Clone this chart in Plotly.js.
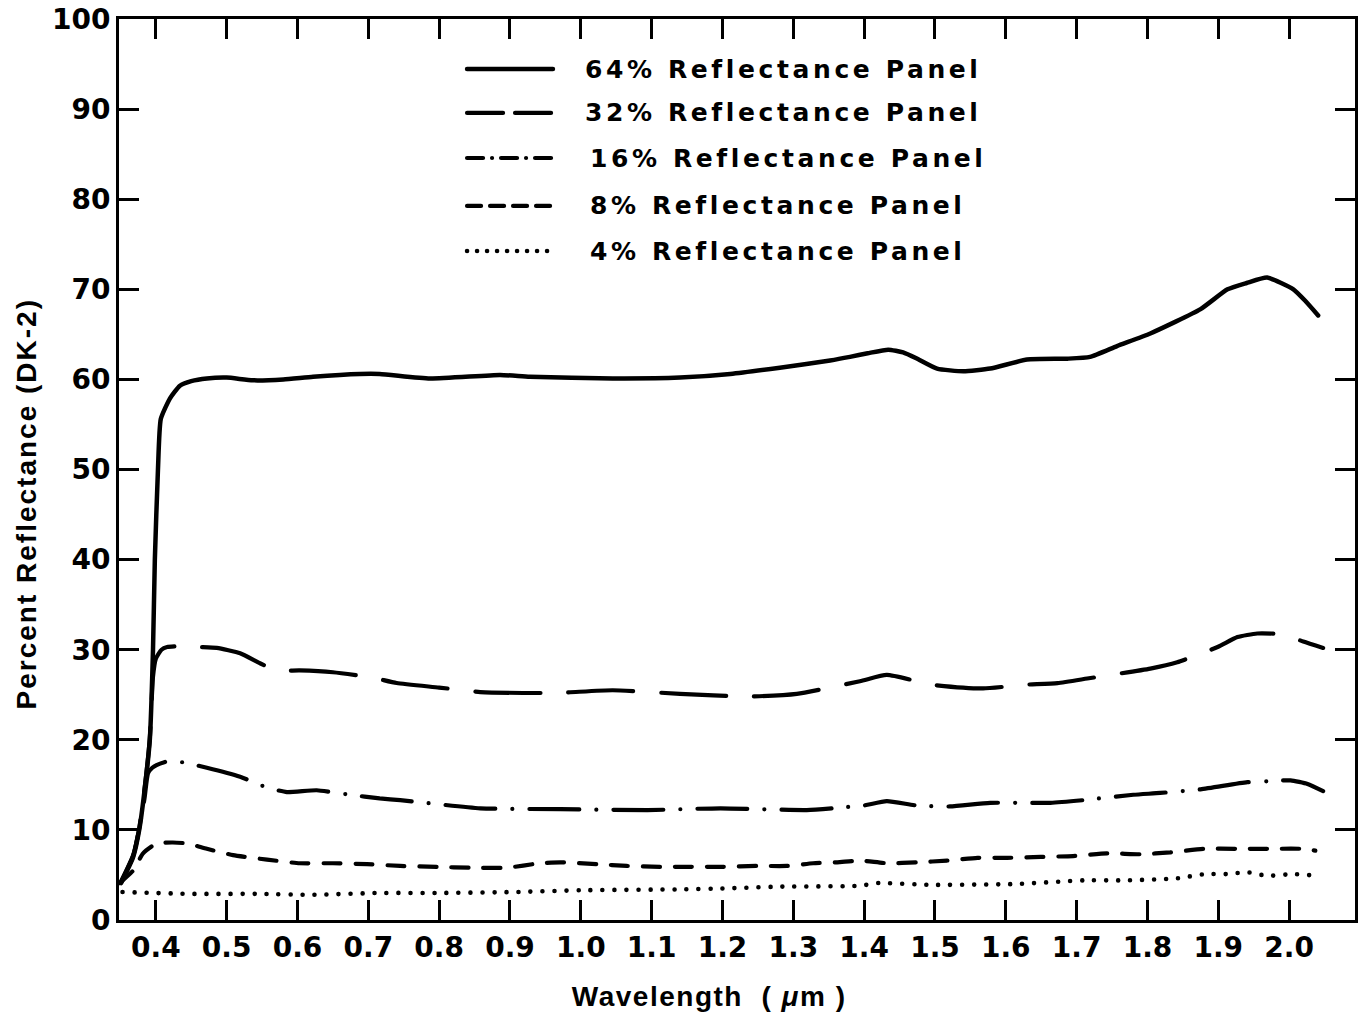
<!DOCTYPE html>
<html>
<head>
<meta charset="utf-8">
<script src="https://cdn.plot.ly/plotly-3.0.1.min.js"></script>
<style>
html,body{margin:0;padding:0;background:#fff;}
#chart{width:1364px;height:1017px;}
path.js-line{stroke-linecap:round;stroke-linejoin:round;}
.shapelayer path{stroke-linecap:round;}
text.annotation-text{letter-spacing:3.6px;}
text.xtitle{letter-spacing:1.5px;white-space:pre;}
text.ytitle{letter-spacing:2px;white-space:pre;}
</style>
</head>
<body>
<div id="chart"></div>
<script>
// ---- data ----
const seriesNames = ["64% Reflectance Panel", "32% Reflectance Panel", "16% Reflectance Panel", "8% Reflectance Panel", "4% Reflectance Panel"];

const wl64 = [0.351, 0.368, 0.377, 0.385, 0.3915, 0.396, 0.3986, 0.403, 0.407, 0.420, 0.434, 0.45, 0.472, 0.50, 0.537, 0.58, 0.622, 0.688, 0.716, 0.787, 0.886, 0.928, 1.045, 1.14, 1.211, 1.281, 1.352, 1.38, 1.405, 1.434, 1.455, 1.475, 1.503, 1.54, 1.578, 1.63, 1.687, 1.719, 1.757, 1.804, 1.875, 1.913, 1.94, 1.969, 2.006, 2.023, 2.041];
const r64  = [4.1, 7.0, 10.2, 15.0, 20.0, 30.0, 40.0, 50.0, 55.6, 57.9, 59.3, 59.8, 60.1, 60.2, 59.9, 60.0, 60.3, 60.6, 60.6, 60.1, 60.5, 60.3, 60.1, 60.2, 60.6, 61.3, 62.1, 62.5, 62.9, 63.3, 63.0, 62.3, 61.2, 60.9, 61.2, 62.2, 62.3, 62.5, 63.7, 65.1, 67.8, 70.0, 70.7, 71.3, 70.0, 68.7, 67.1];

const wl32 = [0.351, 0.368, 0.377, 0.385, 0.3915, 0.396, 0.400, 0.408, 0.416, 0.434, 0.462, 0.486, 0.519, 0.547, 0.571, 0.603, 0.650, 0.706, 0.740, 0.80, 0.858, 0.961, 1.045, 1.14, 1.235, 1.305, 1.394, 1.432, 1.497, 1.568, 1.625, 1.673, 1.715, 1.804, 1.842, 1.899, 1.927, 1.955, 1.992, 2.020, 2.048];
const r32  = [4.3, 7.2, 10.4, 15.2, 20.2, 27.0, 29.0, 30.0, 30.3, 30.4, 30.3, 30.2, 29.6, 28.5, 27.7, 27.7, 27.5, 26.9, 26.3, 25.8, 25.3, 25.2, 25.5, 25.1, 24.8, 25.1, 26.5, 27.2, 26.1, 25.7, 26.1, 26.3, 26.8, 27.9, 28.6, 30.3, 31.4, 31.8, 31.7, 30.9, 30.2];

const wl16 = [0.351, 0.368, 0.377, 0.384, 0.389, 0.395, 0.401, 0.416, 0.438, 0.472, 0.519, 0.557, 0.585, 0.627, 0.674, 0.716, 0.745, 0.858, 0.971, 1.094, 1.197, 1.319, 1.370, 1.399, 1.432, 1.475, 1.521, 1.578, 1.663, 1.709, 1.780, 1.818, 1.875, 1.941, 1.969, 2.002, 2.026, 2.048];
const r16  = [4.2, 7.1, 10.3, 13.5, 16.3, 16.9, 17.2, 17.6, 17.5, 16.9, 15.9, 14.7, 14.2, 14.4, 13.9, 13.5, 13.3, 12.4, 12.3, 12.2, 12.4, 12.2, 12.5, 12.7, 13.2, 12.7, 12.6, 13.0, 13.0, 13.3, 13.9, 14.1, 14.5, 15.3, 15.4, 15.5, 15.1, 14.3];

const wl8 = [0.349, 0.368, 0.382, 0.401, 0.424, 0.444, 0.472, 0.509, 0.557, 0.603, 0.650, 0.698, 0.745, 0.797, 0.844, 0.896, 0.942, 0.971, 1.023, 1.065, 1.112, 1.154, 1.201, 1.249, 1.291, 1.328, 1.362, 1.394, 1.432, 1.475, 1.517, 1.560, 1.602, 1.649, 1.695, 1.743, 1.790, 1.832, 1.879, 1.927, 1.969, 2.016, 2.037];
const r8  = [4.1, 5.5, 7.4, 8.5, 8.6, 8.5, 7.9, 7.2, 6.7, 6.3, 6.3, 6.2, 6.0, 5.9, 5.8, 5.8, 6.3, 6.4, 6.2, 6.0, 5.9, 5.9, 5.9, 6.0, 6.0, 6.3, 6.4, 6.6, 6.3, 6.4, 6.6, 6.9, 6.9, 7.0, 7.1, 7.4, 7.3, 7.5, 7.9, 7.9, 7.9, 7.9, 7.7];

const wl4 = [0.353, 0.45, 0.55, 0.62, 0.716, 0.80, 0.904, 0.999, 1.14, 1.20, 1.281, 1.394, 1.42, 1.493, 1.616, 1.709, 1.769, 1.839, 1.882, 1.913, 1.941, 1.969, 2.006, 2.041];
const r4  = [3.1, 2.9, 2.9, 2.8, 3.0, 3.0, 3.1, 3.3, 3.4, 3.5, 3.7, 3.8, 4.1, 3.9, 4.0, 4.4, 4.4, 4.6, 5.1, 5.1, 5.3, 4.9, 5.1, 4.9];

const xTickVals = [0.4, 0.5, 0.6, 0.7, 0.8, 0.9, 1.0, 1.1, 1.2, 1.3, 1.4, 1.5, 1.6, 1.7, 1.8, 1.9, 2.0];
const xTickText = ["0.4", "0.5", "0.6", "0.7", "0.8", "0.9", "1.0", "1.1", "1.2", "1.3", "1.4", "1.5", "1.6", "1.7", "1.8", "1.9", "2.0"];
const yTickVals = [0, 10, 20, 30, 40, 50, 60, 70, 80, 90, 100];
const yTickText = ["0", "10", "20", "30", "40", "50", "60", "70", "80", "90", "100"];

const xTitleText = "Wavelength  ( <i>μ</i>m )";
const yTitleText = "Percent Reflectance (DK-2)";

// ---- styles (kept separate from data) ----
const xs = [wl64, wl32, wl16, wl8, wl4];
const ys = [r64, r32, r16, r8, r4];
const lineDash = ["solid", "65px,28px", "50px,17px,0px,17px", "17px,15px", "0px,12px"];
const legendDash = ["solid", "36px,12px", "16px,9px,0px,9px", "14px,9px", "0px,10px"];
const lineWidth = [4.5, 4.2, 4.2, 4.2, 4.6];
// trailing non-breaking spaces (closed by a zero-width space so they are kept)
// move the centred titles off-centre the way they sit in the original
const pad = n => "\u00a0".repeat(n) + "\u200b";

const traces = seriesNames.map((name, i) => ({
  type: "scatter",
  mode: "lines",
  name: name,
  x: xs[i],
  y: ys[i],
  line: {color: "#000", width: lineWidth[i], dash: lineDash[i], shape: "spline", smoothing: 0.5},
  showlegend: false,
  hoverinfo: "skip"
}));

// custom legend placement (paper coords)
const legX0 = 0.2816, legX1 = 0.3511, legTextX = 0.3754;
const legRowY = [0.9445, 0.8957, 0.8457, 0.7925, 0.7425];

const shapes = seriesNames.map((n, i) => ({
  type: "line", xref: "paper", yref: "paper",
  x0: legX0, x1: legX1, y0: legRowY[i], y1: legRowY[i],
  line: {color: "#000", width: lineWidth[i], dash: legendDash[i]}
}));
const annotations = seriesNames.map((n, i) => ({
  xref: "paper", yref: "paper", x: legTextX + (i >= 2 ? 0.004 : 0), y: legRowY[i],
  xanchor: "left", yanchor: "middle", showarrow: false,
  text: n,
  font: {family: "DejaVu Sans", size: 25, color: "#000", weight: "bold"}
}));

const axisCommon = {
  showline: true, linecolor: "#000", linewidth: 3,
  mirror: "ticks", ticks: "inside", ticklen: 20, tickwidth: 3, tickcolor: "#000",
  showgrid: false, zeroline: false,
  tickfont: {family: "DejaVu Sans", size: 28, color: "#000", weight: "bold"}
};

const layout = {
  width: 1364, height: 1017,
  margin: {l: 119, r: 9, t: 19, b: 97},
  paper_bgcolor: "#fff", plot_bgcolor: "#fff",
  showlegend: false,
  xaxis: Object.assign({}, axisCommon, {
    range: [0.348, 2.093],
    tickmode: "array", tickvals: xTickVals, ticktext: xTickText,
    title: {text: xTitleText + pad(6), standoff: 24,
      font: {family: "Liberation Sans", size: 28, color: "#000", weight: "bold"}}
  }),
  yaxis: Object.assign({}, axisCommon, {
    range: [0, 100],
    tickmode: "array", tickvals: yTickVals, ticktext: yTickText,
    title: {text: yTitleText + pad(7), standoff: 8,
      font: {family: "Liberation Sans", size: 28, color: "#000", weight: "bold"}}
  }),
  shapes: shapes,
  annotations: annotations
};

Plotly.newPlot("chart", traces, layout, {displayModeBar: false, staticPlot: true});
</script>
</body>
</html>
